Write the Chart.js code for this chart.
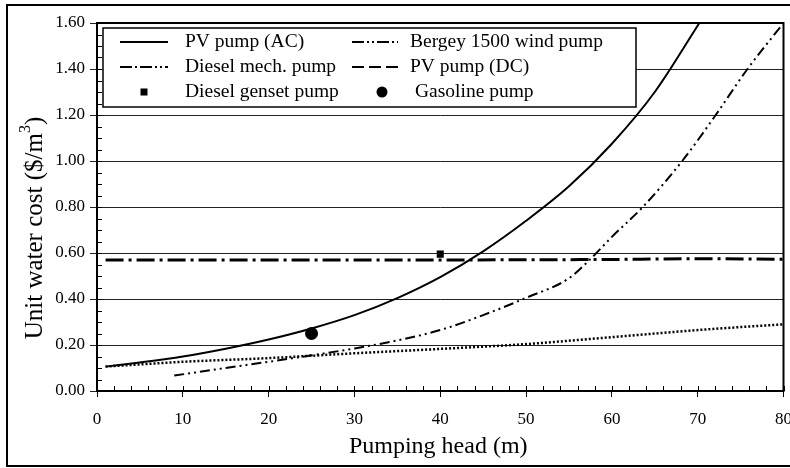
<!DOCTYPE html>
<html>
<head>
<meta charset="utf-8">
<script src="https://cdn.jsdelivr.net/npm/chart.js@4/dist/chart.umd.min.js"></script>
<style>
  html, body { margin: 0; padding: 0; background: #fff; }
  #wrap { width: 790px; height: 468px; }
</style>
</head>
<body>
<div id="wrap"><canvas id="c" width="790" height="468"></canvas></div>
<script>
// ---- Data ----
const pvAcHead = [1, 5, 10, 15, 20, 25, 30, 35, 40, 45, 50, 55, 60, 65, 70.2];
const pvAcCost = [0.106, 0.124, 0.150, 0.184, 0.224, 0.272, 0.330, 0.404, 0.495, 0.607, 0.74, 0.89, 1.075, 1.30, 1.60];

const bergeyHead = [9, 15, 20, 25, 30, 35, 40, 45, 50, 55, 57.4, 60, 63.6, 68.2, 72.1, 75.8, 80];
const bergeyCost = [0.067, 0.10, 0.127, 0.155, 0.185, 0.22, 0.265, 0.33, 0.405, 0.49, 0.57, 0.67, 0.80, 1.00, 1.20, 1.40, 1.60];

const dieselMechHead = [1, 20, 40, 60, 70, 80];
const dieselMechCost = [0.57, 0.57, 0.57, 0.572, 0.575, 0.573];

const pvDcHead = [1, 10, 20, 30, 40, 50, 60, 70, 80];
const pvDcCost = [0.106, 0.127, 0.143, 0.164, 0.183, 0.204, 0.234, 0.265, 0.29];

const gensetHead = [40];
const gensetCost = [0.595];

const gasolineHead = [25];
const gasolineCost = [0.25];

const seriesNames = ['PV pump (AC)', 'Bergey 1500 wind pump', 'Diesel mech. pump', 'PV pump (DC)', 'Diesel genset pump', 'Gasoline pump'];
const xTitle = 'Pumping head (m)';
const yTitleMain = 'Unit water cost ($/m';
const yTitleSup = '3';
const yTitleEnd = ')';

function pts(xs, ys) { return xs.map((v, i) => ({ x: v, y: ys[i] })); }

const FONT = "'Liberation Serif', 'Times New Roman', serif";

const datasets = [
  { label: seriesNames[0], data: pts(pvAcHead, pvAcCost), showLine: true, borderColor: '#000', borderWidth: 2, pointRadius: 0, cubicInterpolationMode: 'monotone' },
  { label: seriesNames[1], data: pts(bergeyHead, bergeyCost), showLine: true, borderColor: '#000', borderWidth: 2, borderDash: [10, 4, 2, 4, 2, 4], pointRadius: 0, cubicInterpolationMode: 'monotone' },
  { label: seriesNames[2], data: pts(dieselMechHead, dieselMechCost), showLine: true, borderColor: '#000', borderWidth: 3, borderDash: [18, 5, 3, 5], pointRadius: 0, cubicInterpolationMode: 'monotone' },
  { label: seriesNames[3], data: pts(pvDcHead, pvDcCost), showLine: true, borderColor: '#000', borderWidth: 2.5, borderDash: [2, 2], pointRadius: 0, cubicInterpolationMode: 'monotone' },
  { label: seriesNames[4], data: pts(gensetHead, gensetCost), showLine: false, pointStyle: 'rect', pointRadius: 5, backgroundColor: '#000', borderColor: '#000', borderWidth: 0 },
  { label: seriesNames[5], data: pts(gasolineHead, gasolineCost), showLine: false, pointStyle: 'circle', pointRadius: 6.5, backgroundColor: '#000', borderColor: '#000', borderWidth: 0 }
];

const legendLayout = [
  { ds: 0, col: 0, row: 0, kind: 'line', dash: [] },
  { ds: 1, col: 1, row: 0, kind: 'line', dash: [12, 3, 2, 3, 2, 3] },
  { ds: 2, col: 0, row: 1, kind: 'line', dash: [12, 3, 2, 3, 12, 3, 2, 3, 2, 3] },
  { ds: 3, col: 1, row: 1, kind: 'line', dash: [12, 5] },
  { ds: 4, col: 0, row: 2, kind: 'rect' },
  { ds: 5, col: 1, row: 2, kind: 'circle' }
];

const decor = {
  id: 'decor',
  beforeDraw(chart) {
    const ctx = chart.ctx;
    ctx.save();
    ctx.fillStyle = '#fff';
    ctx.fillRect(0, 0, chart.width, chart.height);
    ctx.restore();
  },
  afterDraw(chart) {
    const { ctx, chartArea: a, scales: { x, y } } = chart;
    ctx.save();
    ctx.strokeStyle = '#000';
    // plot frame
    ctx.lineWidth = 2;
    ctx.strokeRect(a.left, a.top, a.right - a.left, a.bottom - a.top);
    // minor / inner ticks
    ctx.lineWidth = 1;
    ctx.beginPath();
    for (let v = 0; v <= 80; v += 2) {
      const px = Math.round(x.getPixelForValue(v)) + 0.5;
      ctx.moveTo(px, a.bottom);
      ctx.lineTo(px, a.bottom - 5);
    }
    for (let k = 0; k <= 32; k++) {
      const py = Math.round(y.getPixelForValue(k * 0.05)) + 0.5;
      ctx.moveTo(a.left, py);
      ctx.lineTo(a.left + 5, py);
    }
    ctx.stroke();
    // outer frame
    ctx.lineWidth = 2;
    ctx.strokeRect(7, 5, 800, 461);

    // axis titles
    ctx.fillStyle = '#000';
    ctx.font = '24px ' + FONT;
    ctx.textAlign = 'center';
    ctx.textBaseline = 'middle';
    ctx.fillText(xTitle, (a.left + a.right) / 2 - 2, 447);

    ctx.save();
    ctx.translate(35, 228);
    ctx.rotate(-Math.PI / 2);
    ctx.font = '25px ' + FONT;
    const w1 = ctx.measureText(yTitleMain).width;
    ctx.font = '16px ' + FONT;
    const w2 = ctx.measureText(yTitleSup).width;
    ctx.font = '25px ' + FONT;
    const w3 = ctx.measureText(yTitleEnd).width;
    const tot = w1 + w2 + w3;
    let sx = -tot / 2;
    ctx.textAlign = 'left';
    ctx.fillText(yTitleMain, sx, 0);
    ctx.font = '16px ' + FONT;
    ctx.fillText(yTitleSup, sx + w1, -9);
    ctx.font = '25px ' + FONT;
    ctx.fillText(yTitleEnd, sx + w1 + w2, 0);
    ctx.restore();

    // legend box
    const L = { left: 103, top: 28, right: 636, bottom: 107 };
    ctx.fillStyle = '#fff';
    ctx.fillRect(L.left, L.top, L.right - L.left, L.bottom - L.top);
    ctx.lineWidth = 1.5;
    ctx.strokeStyle = '#000';
    ctx.strokeRect(L.left, L.top, L.right - L.left, L.bottom - L.top);
    const cols = [{ s0: 120, s1: 168, tx: 185 }, { s0: 352, s1: 398, tx: 410 }];
    const rowY = [42, 67, 92];
    ctx.font = '19.5px ' + FONT;
    ctx.textAlign = 'left';
    ctx.textBaseline = 'middle';
    legendLayout.forEach(item => {
      const ds = chart.data.datasets[item.ds];
      const c = cols[item.col];
      const yy = rowY[item.row];
      ctx.fillStyle = '#000';
      ctx.strokeStyle = '#000';
      if (item.kind === 'line') {
        ctx.save();
        ctx.lineWidth = 2;
        ctx.setLineDash(item.dash);
        ctx.beginPath();
        ctx.moveTo(c.s0, yy);
        ctx.lineTo(c.s1, yy);
        ctx.stroke();
        ctx.restore();
        ctx.fillText(ds.label, c.tx, yy);
      } else if (item.kind === 'rect') {
        const cx = (c.s0 + c.s1) / 2;
        ctx.fillRect(cx - 3.5, yy - 3.5, 7, 7);
        ctx.fillText(ds.label, c.tx, yy);
      } else {
        const cx = (c.s0 + c.s1) / 2 + 7;
        ctx.beginPath();
        ctx.arc(cx, yy, 5.5, 0, Math.PI * 2);
        ctx.fill();
        ctx.fillText(ds.label, c.tx + 5, yy);
      }
    });
    ctx.restore();
  }
};

new Chart(document.getElementById('c'), {
  type: 'scatter',
  data: { datasets },
  options: {
    responsive: false,
    animation: false,
    devicePixelRatio: 1,
    layout: { padding: { top: 23, right: 2, left: 0, bottom: 0 } },
    plugins: { legend: { display: false }, tooltip: { enabled: false } },
    scales: {
      x: {
        type: 'linear', min: 0, max: 80,
        border: { display: true, color: '#000', width: 2 },
        grid: { drawOnChartArea: false, drawTicks: true, tickLength: 6, color: '#000', lineWidth: 1 },
        ticks: { stepSize: 10, padding: 12, color: '#000', font: { family: FONT, size: 17 }, maxRotation: 0 },
        afterFit(s) { s.height = 77; s.paddingLeft = 0; s.paddingRight = 0; }
      },
      y: {
        type: 'linear', min: 0, max: 1.6,
        border: { display: true, color: '#000', width: 2 },
        grid: { drawOnChartArea: true, drawTicks: true, tickLength: 7, color: '#222', lineWidth: 1 },
        ticks: { stepSize: 0.2, padding: 5, color: '#000', font: { family: FONT, size: 17 }, callback: v => Number(v).toFixed(2) },
        afterFit(s) { s.width = 97; s.paddingTop = 0; s.paddingBottom = 0; }
      }
    }
  },
  plugins: [decor]
});
</script>
</body>
</html>
